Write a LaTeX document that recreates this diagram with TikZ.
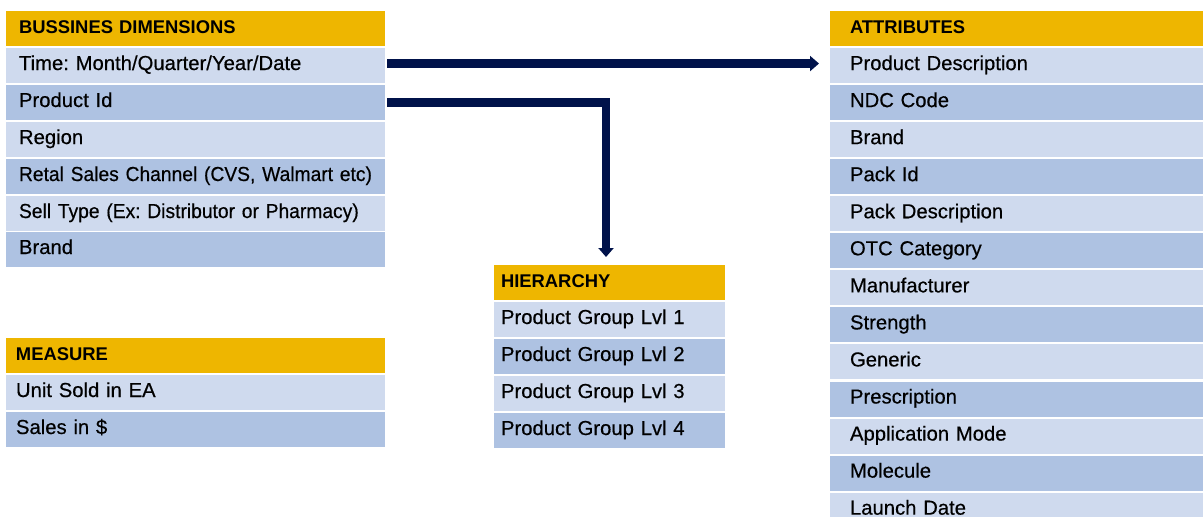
\documentclass[tikz,border=0pt]{standalone}
\usepackage{fontspec}
\setmainfont{Liberation Sans}
\newfontfamily\rowfont[FakeBold=0.45]{Liberation Sans}
\newfontfamily\rowfontnarrow[FakeBold=0.45,FakeStretch=0.95]{Liberation Sans}
\usetikzlibrary{arrows.meta}
\definecolor{gold}{HTML}{EEB600}
\definecolor{lightrow}{HTML}{CFDAEE}
\definecolor{darkrow}{HTML}{AEC2E2}
\definecolor{navy}{HTML}{00124A}
\tikzset{
  cellbase/.style={anchor=north west, inner ysep=0pt, inner xsep=0pt, outer sep=0pt,
    minimum height=26.25pt, align=left},
  rowtext/.style={cellbase, font=\rowfont\fontsize{15.2}{18}\selectfont\frenchspacing,
    text height=16.5pt, text depth=9.75pt},
  narrow/.style={font=\rowfontnarrow\fontsize{15.2}{18}\selectfont\frenchspacing},
  hdr/.style={cellbase, fill=gold, font=\bfseries\fontsize{13.8}{17}\selectfont,
    text height=16.9pt, text depth=9.35pt},
  lt/.style={rowtext, fill=lightrow},
  dk/.style={rowtext, fill=darkrow},
  inset/.style={execute at begin node={\hspace*{#1}}},
  bdw/.style={minimum width=284.25pt, text width=284.25pt, inset=9.75pt},
  msw/.style={minimum width=284.25pt, text width=284.25pt, inset=7.5pt},
  hrw/.style={minimum width=173.25pt, text width=173.25pt, inset=5.25pt},
  atw/.style={minimum width=279.75pt, text width=279.75pt, inset=15pt},
  arr/.style={draw=navy, line width=6.5pt,
    -{Triangle[length=6.75pt, width=11.25pt]}},
}
\begin{document}
\begin{tikzpicture}[x=0.75pt, y=-0.75pt]
\useasboundingbox (0,0) rectangle (1203,517);
% Business dimensions
\node[hdr, bdw] (bd0) at (6,11) {BUSSINES DIMENSIONS};
\node[lt, bdw] (bd1) at (6,48) {Time: Month/Quarter/Year/Date};
\node[dk, bdw] (bd2) at (6,85) {Product Id};
\node[lt, bdw] (bd3) at (6,122) {Region};
\node[dk, bdw, narrow] (bd4) at (6,159) {\mbox{Retal Sales Channel (CVS, Walmart etc)}};
\node[lt, bdw, narrow] (bd5) at (6,196) {\mbox{Sell Type (Ex: Distributor or Pharmacy)}};
\node[dk, bdw] (bd6) at (6,232) {Brand};
% Measure
\node[hdr, msw] (ms0) at (6,338) {MEASURE};
\node[lt, msw] (ms1) at (6,375) {Unit Sold in EA};
\node[dk, msw] (ms2) at (6,412) {Sales in \$};
% Hierarchy
\node[hdr, hrw] (hr0) at (494,265) {HIERARCHY};
\node[lt, hrw] (hr1) at (494,302) {Product Group Lvl 1};
\node[dk, hrw] (hr2) at (494,339) {Product Group Lvl 2};
\node[lt, hrw] (hr3) at (494,376) {Product Group Lvl 3};
\node[dk, hrw] (hr4) at (494,413) {Product Group Lvl 4};
% Attributes
\node[hdr, atw] (at0) at (830,11) {ATTRIBUTES};
\node[lt, atw] (at1) at (830,48.05) {Product Description};
\node[dk, atw] (at2) at (830,85.1) {NDC Code};
\node[lt, atw] (at3) at (830,122.15) {Brand};
\node[dk, atw] (at4) at (830,159.2) {Pack Id};
\node[lt, atw] (at5) at (830,196.25) {Pack Description};
\node[dk, atw] (at6) at (830,233.3) {OTC Category};
\node[lt, atw] (at7) at (830,270.35) {Manufacturer};
\node[dk, atw] (at8) at (830,307.4) {Strength};
\node[lt, atw] (at9) at (830,344.45) {Generic};
\node[dk, atw] (at10) at (830,381.5) {Prescription};
\node[lt, atw] (at11) at (830,418.55) {Application Mode};
\node[dk, atw] (at12) at (830,455.6) {Molecule};
\node[lt, atw] (at13) at (830,492.65) {Launch Date};
% Connectors
\draw[arr, shorten <=1.5pt, shorten >=8.25pt] ([yshift=1.5pt]bd1.east) -- ([yshift=1.5pt]at1.west);
\draw[arr, shorten <=1.5pt, shorten >=6pt] (bd2.east) -| ([xshift=-2.6pt]hr0.north);
\end{tikzpicture}
\end{document}
